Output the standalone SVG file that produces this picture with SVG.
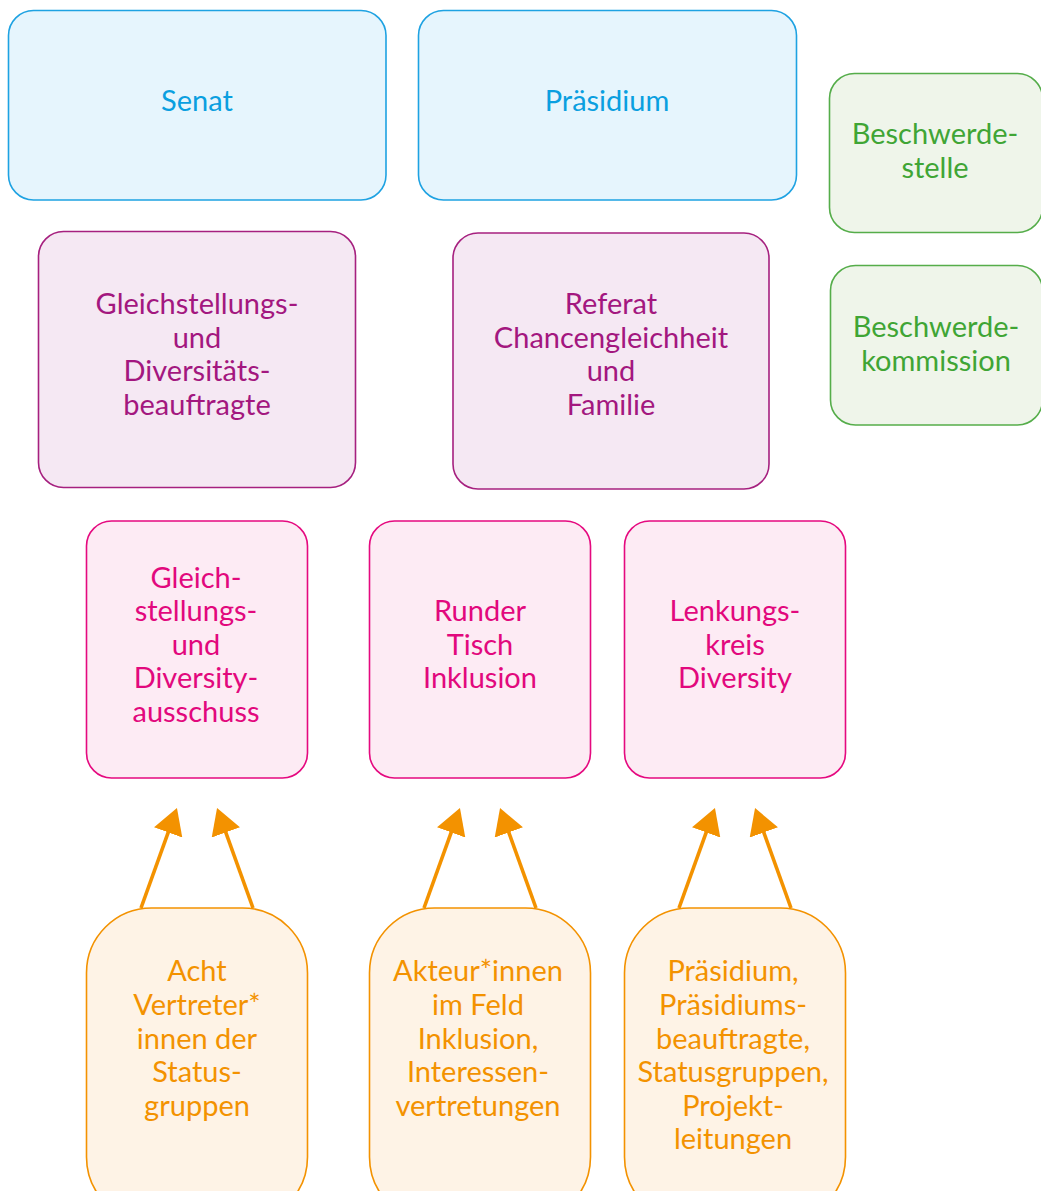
<svg xmlns="http://www.w3.org/2000/svg" width="1041" height="1191" viewBox="0 0 1041 1191">
<defs>
<style>
rect{stroke-width:1.6}
text{font-family:Lato,"Open Sans","Liberation Sans",sans-serif;font-size:29px;text-anchor:middle}
.blue rect{fill:#e6f5fd;stroke:#1ea2e2}
.blue text{fill:#0a9fe0}
.green rect{fill:#eff5ea;stroke:#55ad4a}
.green text{fill:#3fa535}
.purple rect{fill:#f5e8f3;stroke:#a6207f}
.purple text{fill:#a3177f}
.pink rect{fill:#fdebf4;stroke:#e5097f}
.pink text{fill:#e2087d}
.orange rect{fill:#fef3e6;stroke:#f39200}
.orange text{fill:#f39200}
.arrow{stroke:#f39200;stroke-width:3.6;fill:none;marker-end:url(#ah)}
</style>
<marker id="ah" viewBox="0 0 26 30" refX="6" refY="15" markerWidth="26" markerHeight="30" markerUnits="userSpaceOnUse" orient="auto">
<path d="M0,0 L26,15 L0,30 z" fill="#f39200"/>
</marker>
</defs>

<g id="senat" class="blue">
<rect x="8.5" y="10.5" width="377.5" height="189.5" rx="25"/>
<text x="197" y="111">Senat</text>
</g>
<g id="praesidium" class="blue">
<rect x="418.5" y="10.5" width="378" height="189.5" rx="25"/>
<text x="607" y="111">Präsidium</text>
</g>
<g id="beschwerdestelle" class="green">
<rect x="829.5" y="73.5" width="213" height="159" rx="25"/>
<text x="935" y="144">Beschwerde-</text>
<text x="935" y="178">stelle</text>
</g>
<g id="beschwerdekommission" class="green">
<rect x="830.5" y="265.5" width="212" height="159.5" rx="25"/>
<text x="936" y="337">Beschwerde-</text>
<text x="936" y="371">kommission</text>
</g>

<g id="gleichstellungsbeauftragte" class="purple">
<rect x="38.5" y="231.5" width="317" height="256" rx="25"/>
<text x="197" y="314">Gleichstellungs-</text>
<text x="197" y="348">und</text>
<text x="197" y="381">Diversitäts-</text>
<text x="197" y="415">beauftragte</text>
</g>
<g id="referat" class="purple">
<rect x="453" y="233" width="316" height="256" rx="25"/>
<text x="611" y="314">Referat</text>
<text x="611" y="348">Chancengleichheit</text>
<text x="611" y="381">und</text>
<text x="611" y="415">Familie</text>
</g>

<g id="ausschuss" class="pink">
<rect x="86.5" y="521" width="221" height="257" rx="25"/>
<text x="196" y="588">Gleich-</text>
<text x="196" y="621">stellungs-</text>
<text x="196" y="655">und</text>
<text x="196" y="688">Diversity-</text>
<text x="196" y="722">ausschuss</text>
</g>
<g id="rundertisch" class="pink">
<rect x="369.5" y="521" width="221" height="257" rx="25"/>
<text x="480" y="621">Runder</text>
<text x="480" y="655">Tisch</text>
<text x="480" y="688">Inklusion</text>
</g>
<g id="lenkungskreis" class="pink">
<rect x="624.5" y="521" width="221" height="257" rx="25"/>
<text x="735" y="621">Lenkungs-</text>
<text x="735" y="655">kreis</text>
<text x="735" y="688">Diversity</text>
</g>

<g id="vertreter" class="orange">
<rect x="86.5" y="908" width="221" height="314" rx="65"/>
<text x="197" y="981">Acht</text>
<text x="197" y="1015">Vertreter*</text>
<text x="197" y="1049">innen der</text>
<text x="197" y="1082">Status-</text>
<text x="197" y="1116">gruppen</text>
</g>
<g id="akteure" class="orange">
<rect x="369.5" y="908" width="221" height="314" rx="65"/>
<text x="478" y="981">Akteur*innen</text>
<text x="478" y="1015">im Feld</text>
<text x="478" y="1049">Inklusion,</text>
<text x="478" y="1082">Interessen-</text>
<text x="478" y="1116">vertretungen</text>
</g>
<g id="praesidiumgruppen" class="orange">
<rect x="624.5" y="908" width="221" height="314" rx="65"/>
<text x="733" y="981">Präsidium,</text>
<text x="733" y="1015">Präsidiums-</text>
<text x="733" y="1049">beauftragte,</text>
<text x="733" y="1082">Statusgruppen,</text>
<text x="733" y="1116">Projekt-</text>
<text x="733" y="1149">leitungen</text>
</g>

<g id="connectors">
<path class="arrow" d="M141,908 L170.2,826.8"/>
<path class="arrow" d="M253,908 L223.8,826.8"/>
<path class="arrow" d="M424,908 L453.2,826.8"/>
<path class="arrow" d="M536,908 L506.8,826.8"/>
<path class="arrow" d="M679,908 L708.2,826.8"/>
<path class="arrow" d="M791,908 L761.8,826.8"/>
</g>
</svg>
